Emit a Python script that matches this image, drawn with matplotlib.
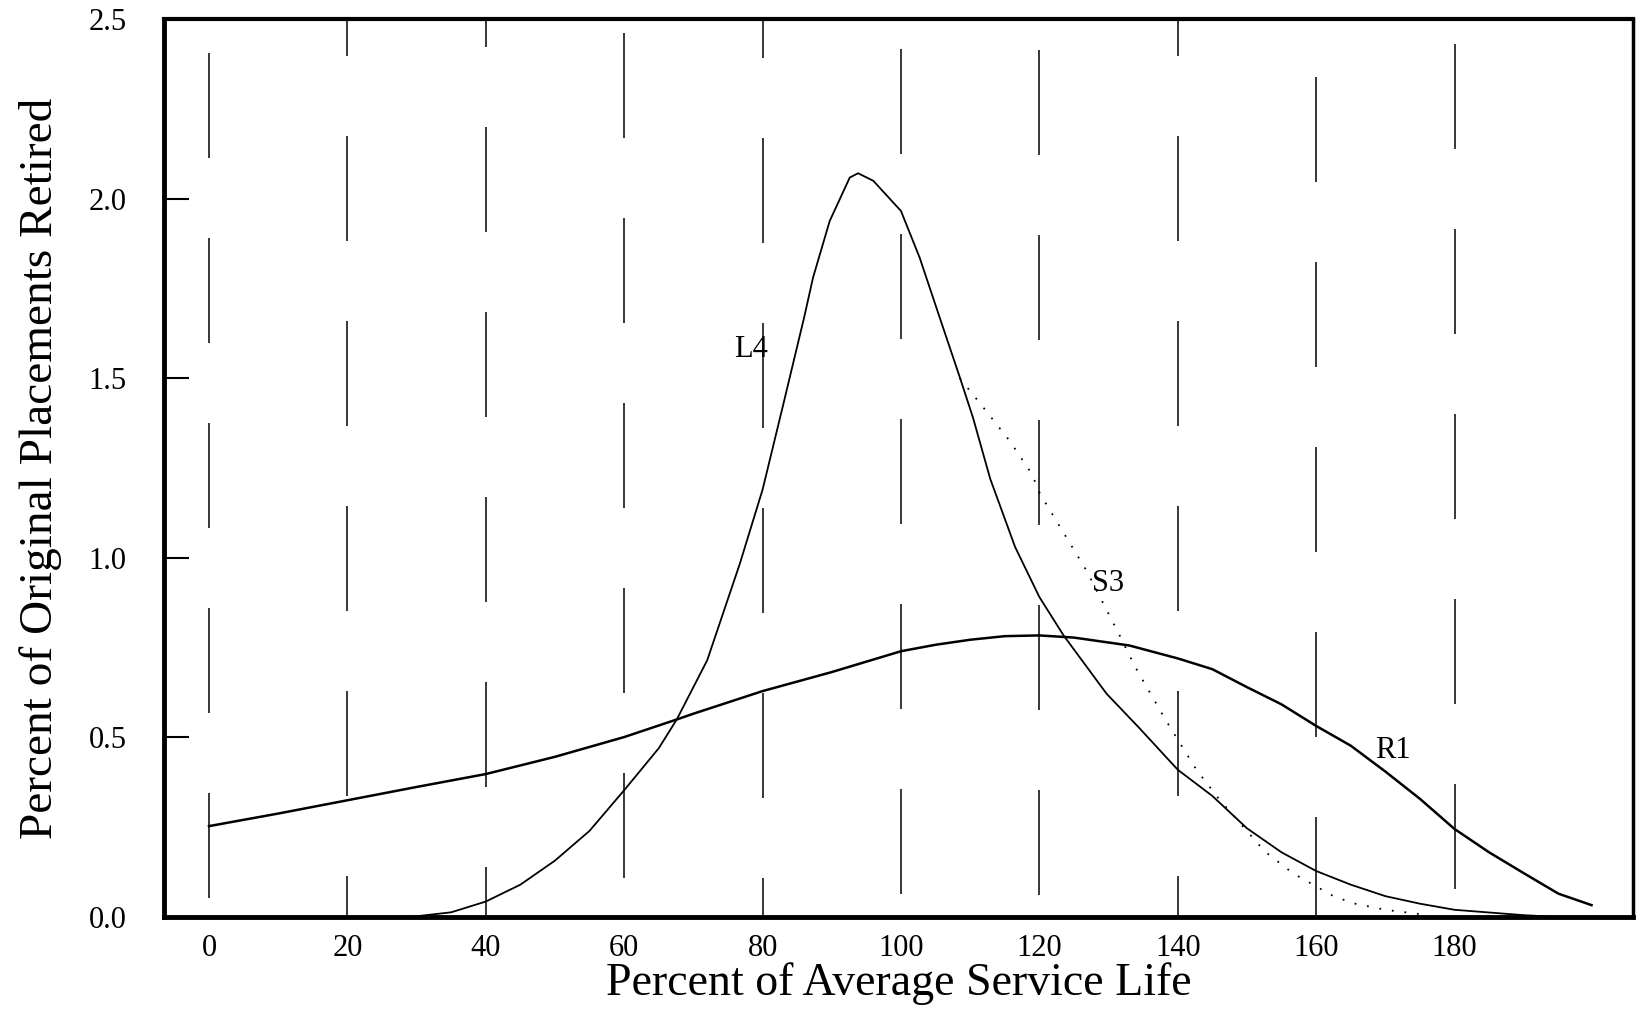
import matplotlib
matplotlib.use('Agg')
from matplotlib import pyplot as plt

# Кривые выбытия
l4_x = [25, 30, 35, 40, 45, 50, 55, 60, 65, 67.6, 72, 76.7, 80, 83, 86, 87.3, 89.7,
        92.6, 93.8, 96, 100, 102.7, 105.6, 108.5, 110.4, 112.9, 116.5, 120, 123.5,
        129.7, 134.5, 140, 145, 150, 155, 160, 165, 170, 175, 180, 190, 195]
l4_y = [0.0, 0.002, 0.013, 0.043, 0.09, 0.157, 0.24, 0.353, 0.47, 0.55, 0.715, 0.983,
        1.19, 1.428, 1.669, 1.781, 1.938, 2.059, 2.071, 2.05, 1.966, 1.836, 1.669,
        1.503, 1.391, 1.22, 1.03, 0.891, 0.784, 0.622, 0.525, 0.41, 0.337, 0.247,
        0.18, 0.128, 0.09, 0.058, 0.037, 0.02, 0.005, 0.0]

s3_x = [108.5, 111.4, 115.7, 118.9, 120.1, 126.8, 131.6, 133.8, 138.2, 142.7, 146.1,
        152.6, 156.7, 162.5, 165.4, 170, 175]
s3_y = [1.50, 1.431, 1.326, 1.234, 1.178, 0.965, 0.784, 0.698, 0.55, 0.41, 0.325,
        0.182, 0.121, 0.058, 0.038, 0.02, 0.008]

r1_x = [0, 10, 20, 30, 40, 50, 60, 67.6, 70, 80, 90, 100, 105, 110, 115, 120, 125,
        133, 140, 145, 150, 155, 160, 165, 170, 175, 180, 185, 190, 195, 199.8]
r1_y = [0.253, 0.288, 0.325, 0.362, 0.398, 0.446, 0.501, 0.55, 0.566, 0.629, 0.682,
        0.740, 0.758, 0.772, 0.782, 0.784, 0.778, 0.756, 0.72, 0.69, 0.64, 0.592,
        0.532, 0.477, 0.405, 0.329, 0.245, 0.18, 0.122, 0.065, 0.033]

x_ticks = [0, 20, 40, 60, 80, 100, 120, 140, 160, 180]
y_ticks = [0.0, 0.5, 1.0, 1.5, 2.0, 2.5]
curve_names = ['L4', 'S3', 'R1']
name_pos = [(78.4, 1.58), (130.0, 0.93), (171.1, 0.464)]

# где начинается первый штрих каждой линии сетки (пиксели от верха рисунка)
dash_start = [53, 136, 127, 33, 138, 49, 50, 136, 77, 44]

plt.rcParams['font.family'] = ['Liberation Serif', 'DejaVu Serif']

W, H, DPI = 16.37, 10.10, 100
fig = plt.figure(figsize=(W, H), dpi=DPI)
ax = fig.add_axes([0.1002, 0.0921, 0.8974, 0.8889])

# Вертикальные штриховые линии сетки (рисуются сверху вниз)
grid_lw = 1.1
on_px, off_px = 105, 80
px2u = 72 / DPI / grid_lw
top_px = 19
for xt, s in zip(x_ticks, dash_start):
    phase = (on_px + off_px - (s - top_px)) % (on_px + off_px)
    ax.plot([xt, xt], [2.5, 0], color='black', lw=grid_lw, zorder=1,
            linestyle=(phase * px2u, (on_px * px2u, off_px * px2u)))

ax.plot(r1_x, r1_y, color='black', lw=1.8, zorder=3)
ax.plot(l4_x, l4_y, color='black', lw=1.3, zorder=3)
ax.plot(s3_x, s3_y, color='black', lw=1.3, linestyle=(0, (1, 6)), zorder=3)

for name, (tx, ty) in zip(curve_names, name_pos):
    ax.text(tx, ty, name, fontsize=22, ha='center', va='center', zorder=4)

ax.set_xlim(-6.5, 205.8)
ax.set_ylim(0, 2.5)
ax.set_xticks(x_ticks)
ax.set_yticks(y_ticks)
ax.set_yticklabels(['%.1f' % v for v in y_ticks])
ax.tick_params(axis='x', length=0, pad=12, labelsize=22)
ax.tick_params(axis='y', direction='in', length=18, width=1.5, pad=27, labelsize=22)

for side, w in [('left', 3.5), ('bottom', 3.5), ('top', 3.0), ('right', 2.5)]:
    ax.spines[side].set_linewidth(w)

ax.set_xlabel('Percent of Average Service Life', fontsize=33, labelpad=0)
ax.set_ylabel('Percent of Original Placements Retired', fontsize=34, labelpad=19)

fig.savefig('out.png', dpi=DPI)
